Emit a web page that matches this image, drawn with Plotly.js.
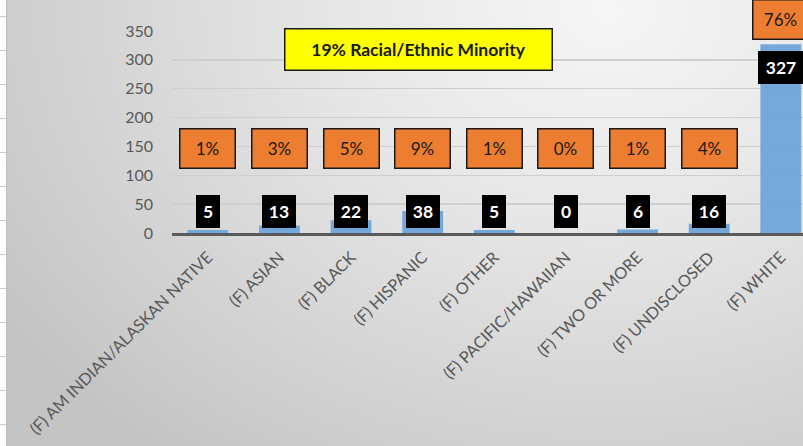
<!DOCTYPE html>
<html>
<head>
<meta charset="utf-8">
<script src="https://cdn.plot.ly/plotly-3.0.1.min.js"></script>
<style>
  html, body { margin: 0; padding: 0; width: 803px; height: 446px; overflow: hidden; }
  #bg { position: absolute; left: 7px; top: 0; width: 796px; height: 446px;
        background: radial-gradient(ellipse 720px 560px at 600px 10px, #f6f6f6 0%, #e8e8e8 35%, #d8d8d8 65%, #cacaca 90%, #c4c4c4 100%); }
  #strip { position: absolute; left: 0; top: 0; width: 7px; height: 446px; background-color: #ffffff;
           background-image: repeating-linear-gradient(to bottom, transparent 0px, transparent 16px, #c8c8c8 16px, #c8c8c8 17px, transparent 17px, transparent 34px);
           border-right: 1px solid #bdbdbd; box-sizing: border-box; }
  #chart { position: absolute; left: 0; top: 0; width: 803px; height: 446px; }
</style>
</head>
<body>
<div id="bg"></div>
<div id="strip"></div>
<div id="chart"></div>
<script>
const categories = ["(F) AM INDIAN/ALASKAN NATIVE", "(F) ASIAN", "(F) BLACK", "(F) HISPANIC", "(F) OTHER",
                    "(F) PACIFIC/HAWAIIAN", "(F) TWO OR MORE", "(F) UNDISCLOSED", "(F) WHITE"];
const counts = [5, 13, 22, 38, 5, 0, 6, 16, 327];
const percents = ["1%", "3%", "5%", "9%", "1%", "0%", "1%", "4%", "76%"];
const yTicks = [0, 50, 100, 150, 200, 250, 300, 350];
const calloutText = "19% Racial/Ethnic Minority";

const FONT = "Lato, 'Open Sans', sans-serif";
const Y_MAX = 350;

const annotations = [];
categories.forEach((c, i) => {
  const v = counts[i];
  const big = v > 100;
  const s = String(v);
  // count label (black box)
  annotations.push({
    x: c, y: big ? v - 41 : 38, xref: "x", yref: "y",
    text: "<b>" + s + "</b>", showarrow: false,
    font: { family: FONT, size: 17.5, color: "#ffffff" },
    bgcolor: "#000000", bordercolor: "#000000", borderwidth: 1, borderpad: 0,
    width: s.length === 1 ? 22 : (s.length === 2 ? 32 : 44), height: 31,
    xanchor: "center", yanchor: "middle"
  });
  // percent label (orange box)
  const pct = {
    x: c, xref: "x", text: percents[i], showarrow: false,
    font: { family: FONT, size: 17, color: "#1a1a1a" },
    bgcolor: "#ED7D31", bordercolor: "#1a1a1a", borderwidth: 1.5, borderpad: 0,
    width: 54, height: 38, xanchor: "center", yanchor: "middle"
  };
  if (big) { pct.y = (v + 43) / Y_MAX; pct.yref = "y domain"; }
  else { pct.y = 147; pct.yref = "y"; }
  annotations.push(pct);
});
const L = 172, R = 0, T = 31, B = 213, W = 803, H = 446;
annotations.push({
  x: (418 - L) / (W - L - R), y: 1 - (50 - T) / (H - T - B), xref: "paper", yref: "paper",
  text: "<b>" + calloutText + "</b>", showarrow: false,
  font: { family: FONT, size: 17.5, color: "#1a1a1a" },
  bgcolor: "#FFFF00", bordercolor: "#1a1a1a", borderwidth: 1.5, borderpad: 0,
  width: 266, height: 40, xanchor: "center", yanchor: "middle"
});

const trace = {
  type: "bar", x: categories, y: counts,
  marker: { color: "#6FA5DA", line: { width: 0 } },
  width: 0.57, opacity: 0.95,
  hoverinfo: "skip"
};

const layout = {
  width: W, height: H,
  margin: { l: L, r: R, t: T, b: B, pad: 0 },
  paper_bgcolor: "rgba(0,0,0,0)", plot_bgcolor: "rgba(0,0,0,0)",
  showlegend: false,
  font: { family: FONT, color: "#595959" },
  xaxis: {
    type: "category", range: [-0.5, 8.31],
    tickangle: -45, tickfont: { family: FONT, size: 16.3, color: "#595959" },
    showline: true, linecolor: "#5a5a5a", linewidth: 2.5,
    showgrid: false, zeroline: false, ticks: "", ticklabelstandoff: 6
  },
  yaxis: {
    range: [0, Y_MAX], tickvals: yTicks, ticktext: yTicks.map(String),
    tickfont: { family: FONT, size: 16, color: "#595959" },
    showgrid: true, gridcolor: "#cfcfcf", gridwidth: 1.3,
    zeroline: false, showline: false, ticks: "", ticklabelstandoff: 18
  },
  annotations: annotations
};

Plotly.newPlot("chart", [trace], layout, { staticPlot: true, displayModeBar: false });
</script>
</body>
</html>
